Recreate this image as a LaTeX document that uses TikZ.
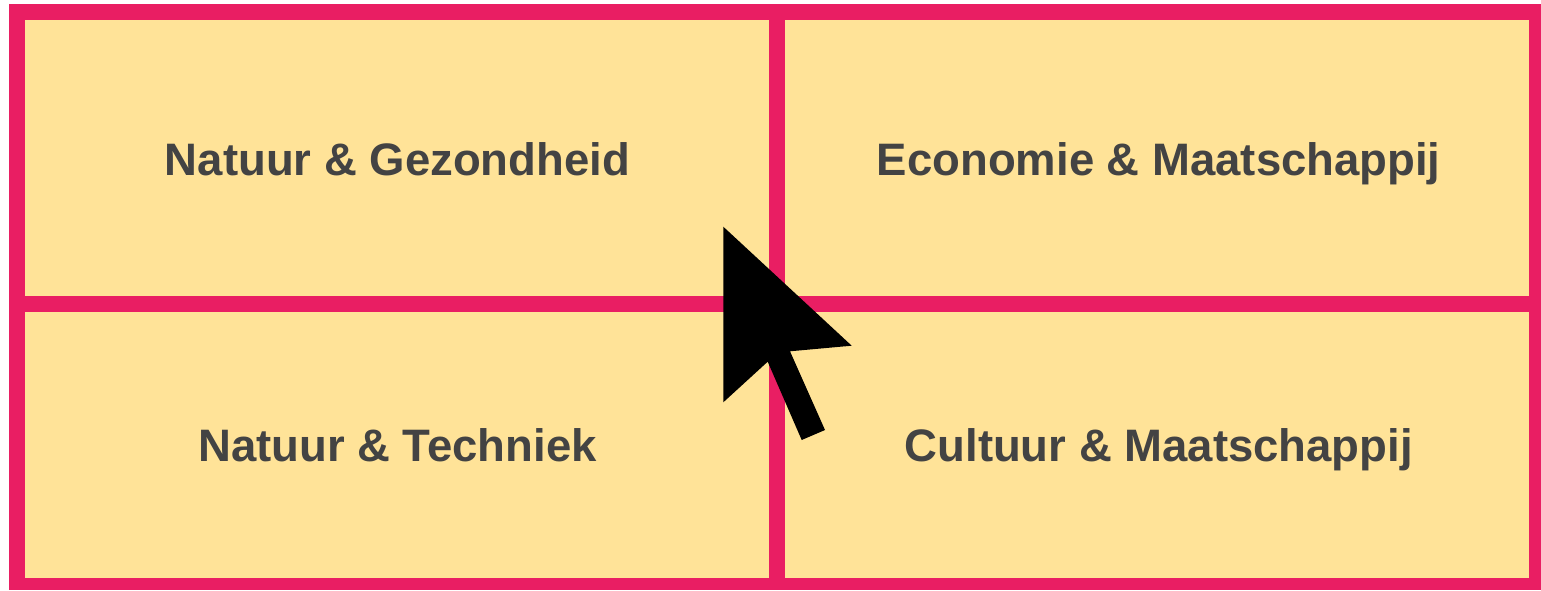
\documentclass[tikz,border=0pt]{standalone}
\usepackage{fontspec}
\setmainfont{Liberation Sans}
\definecolor{pinkline}{HTML}{E91E63}
\definecolor{cellfill}{HTML}{FFE398}
\definecolor{labeltext}{HTML}{434343}
\tikzset{
  cell/.style={fill=cellfill,draw=none,inner sep=0pt,outer sep=0pt,anchor=north west,
    text=labeltext,font=\fontsize{45.5}{50}\selectfont\bfseries,align=center,
    text height=33pt,text depth=0pt},
  toprow/.style={cell,minimum width=744pt,minimum height=276pt,text height=35pt},
  bottomrow/.style={cell,minimum width=744pt,minimum height=265.5pt},
}
\begin{document}
\begin{tikzpicture}[x=1pt,y=-1pt]
\useasboundingbox (0,0) rectangle (1541,590);
\fill[white] (0,0) rectangle (1541,590);
\fill[pinkline] (9,4) rectangle (1541,590);
\node[toprow] (nw) at (25,20) {\kern1pt Natuur \& Gezondheid};
\node[toprow] (ne) at (785,20) {\kern3.5pt Economie \& Maatschappij};
\node[bottomrow] (sw) at (25,312) {\kern1pt Natuur \& Techniek};
\node[bottomrow] (se) at (785,312) {\kern3.5pt Cultuur \& Maatschappij};
\fill[black] (723.3,226.7) -- (851.7,345.7) -- (790,351.3) -- (825,430) -- (801.7,440) -- (767.7,361.7) -- (723.3,402.3) -- cycle;
\end{tikzpicture}
\end{document}
